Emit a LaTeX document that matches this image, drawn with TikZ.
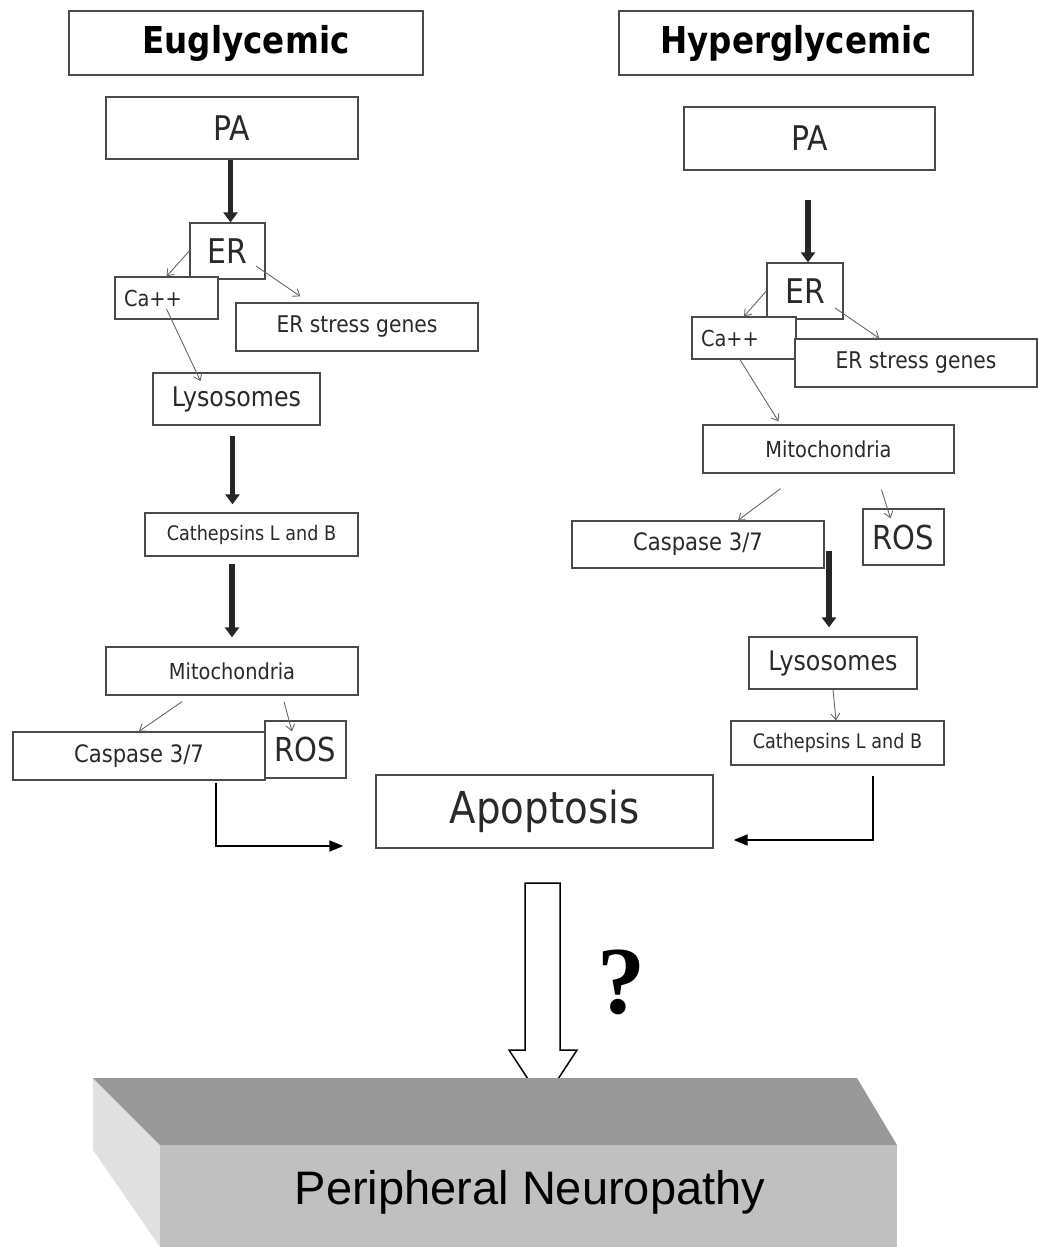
\documentclass[tikz,border=0pt]{standalone}
\usepackage{fontspec}
\newfontfamily\boxfont[FakeStretch=0.88]{DejaVu Sans}
\newfontfamily\slabfont{Liberation Sans}
\newfontfamily\qfont{Liberation Serif}
\usetikzlibrary{arrows.meta}
\definecolor{boxline}{HTML}{4A4A4A}
\definecolor{boxtext}{HTML}{2A2A2A}
\definecolor{slabtop}{HTML}{999999}
\definecolor{slabfront}{HTML}{C0C0C0}
\definecolor{slabside}{HTML}{E0E0E0}
\tikzset{
  box/.style={draw=boxline, fill=white, line width=1.3pt, inner sep=0pt, text=boxtext,
    font=\boxfont\fontsize{#1}{#1}\selectfont},
  titlebox/.style={box=#1, text=black, font=\boxfont\bfseries\fontsize{#1}{#1}\selectfont},
  thinarrow/.style={draw=black!60, line width=0.9pt, arrows={-Straight Barb[length=6pt,width=9pt]}},
  thickarrow/.style={draw=black!85, line width=5.5pt, arrows={-Triangle[length=10pt,width=14pt]}},
  elbowarrow/.style={draw=black, line width=1.8pt, arrows={-Triangle[length=14pt,width=11pt]}}
}

\begin{document}
\begin{tikzpicture}[x=1pt,y=-1pt]
\useasboundingbox (0,0) rectangle (1037,1247);
\begin{scope}
    \node[titlebox=37, minimum width=354pt, minimum height=64pt] (euL) at (246,43) {Euglycemic};
    \node[titlebox=37, minimum width=354pt, minimum height=64pt] (euR) at (796,43) {Hyperglycemic};

    \node[box=34, minimum width=252pt, minimum height=62pt] (paL) at (232,128) {PA};
    \node[box=34, minimum width=75pt, minimum height=56pt] (erL) at (227.5,251) {ER};
    \node[box=22, minimum width=103pt, minimum height=42pt, text width=85pt] (caL) at (166.5,298) {Ca++};
    \node[box=23, minimum width=242pt, minimum height=48pt] (sgL) at (357,327) {ER stress genes};
    \node[box=27, minimum width=167pt, minimum height=52pt] (lyL) at (236.5,399) {Lysosomes};
    \node[box=20, minimum width=213pt, minimum height=43pt] (ctL) at (251.5,534.5) {Cathepsins L and B};
    \node[box=22, minimum width=252pt, minimum height=48pt] (mtL) at (232,671) {Mitochondria};
    \node[box=24, minimum width=252pt, minimum height=48pt] (cpL) at (139,756) {Caspase 3/7};
    \node[box=33, minimum width=81pt, minimum height=57pt] (roL) at (305.5,749.5) {ROS};

    \node[box=34, minimum width=251pt, minimum height=63pt] (paR) at (809.5,138.5) {PA};
    \node[box=34, minimum width=76pt, minimum height=56pt] (erR) at (805,291) {ER};
    \node[box=22, minimum width=104pt, minimum height=42pt, text width=86pt] (caR) at (744,338) {Ca++};
    \node[box=23, minimum width=242pt, minimum height=48pt] (sgR) at (916,363) {ER stress genes};
    \node[box=22, minimum width=251pt, minimum height=48pt] (mtR) at (828.5,449) {Mitochondria};
    \node[box=24, minimum width=252pt, minimum height=47pt] (cpR) at (698,544.5) {Caspase 3/7};
    \node[box=33, minimum width=81pt, minimum height=56pt] (roR) at (903.5,537) {ROS};
    \node[box=27, minimum width=168pt, minimum height=52pt] (lyR) at (833,663) {Lysosomes};
    \node[box=20, minimum width=213pt, minimum height=44pt] (ctR) at (837.5,743) {Cathepsins L and B};

    \node[box=44, minimum width=337pt, minimum height=73pt] (apo) at (544.5,811.5) {Apoptosis};

    \draw [thickarrow] ([xshift=-1.5pt]paL.south) -- ([xshift=-1.5pt]paL.south |- erL.north);
    \draw [thickarrow, shorten <=10pt, shorten >=8pt] ([xshift=-4pt]lyL.south) -- ([xshift=-4pt]lyL.south |- ctL.north);
    \draw [thickarrow, shorten <=7pt, shorten >=9pt] (mtL.north |- ctL.south) -- (mtL.north);
    \draw [thickarrow, shorten <=29pt] ([xshift=-1.5pt]paR.south) -- ([xshift=-1.5pt]paR.south |- erR.north);
    \draw [thickarrow, shorten <=6pt, shorten >=9pt] ([xshift=-4pt]lyR.north |- cpR.east) -- ([xshift=-4pt]lyR.north);

    \draw [thinarrow] (erL.west) -- (caL.north);
    \draw [thinarrow] ([xshift=28.5pt,yshift=-15pt]erL.center) -- ([xshift=65pt,yshift=6pt]sgL.north west);
    \draw [thinarrow] ([yshift=-11pt]caL.center) -- ([xshift=-36pt,yshift=18pt]lyL.center);
    \draw [thinarrow] ([xshift=-50pt,yshift=-6pt]mtL.south) -- (cpL.north);
    \draw [thinarrow] ([xshift=52pt,yshift=-6pt]mtL.south) -- ([xshift=-13.5pt,yshift=-11pt]roL.north);
    \draw [thinarrow] (erR.west) -- (caR.north);
    \draw [thinarrow] ([xshift=30pt,yshift=-17pt]erR.center) -- ([xshift=85pt]sgR.north west);
    \draw [thinarrow] ([xshift=-4pt]caR.south) -- ([xshift=-50pt,yshift=3pt]mtR.north);
    \draw [thinarrow] ([xshift=-48pt,yshift=-15pt]mtR.south) -- ([xshift=40pt]cpR.north);
    \draw [thinarrow] ([xshift=53pt,yshift=-16pt]mtR.south) -- ([xshift=-13pt,yshift=-10pt]roR.north);
    \draw [thinarrow] (lyR.south) -- ([xshift=-1.5pt]ctR.north);

    \draw [elbowarrow] ([xshift=77pt,yshift=-2pt]cpL.south) |- ([xshift=-32pt,yshift=-34.5pt]apo.west);
    \draw [elbowarrow] ([xshift=35.5pt,yshift=-10pt]ctR.south) |- ([xshift=20pt,yshift=-28.5pt]apo.east);
\end{scope}

\begin{scope}
    \draw [fill=white, line width=1.5pt, line join=miter]
      (525,883) -- (560,883) -- (560,1050) -- (577,1050) -- (543,1102) -- (509,1050) -- (525,1050) -- cycle;
    \node[font=\qfont\bfseries\fontsize{96}{96}\selectfont] (q) at (621,982) {?};

    \fill [slabside] (93,1078) -- (160,1145) -- (160,1247) -- (93,1150) -- cycle;
    \fill [slabtop] (93,1078) -- (857,1078) -- (897,1145) -- (160,1145) -- cycle;
    \fill [slabfront] (160,1145) rectangle (897,1247);
    \node[font=\slabfont\fontsize{47}{47}\selectfont] (pn) at (530,1192) {Peripheral Neuropathy};
\end{scope}
\end{tikzpicture}
\end{document}
